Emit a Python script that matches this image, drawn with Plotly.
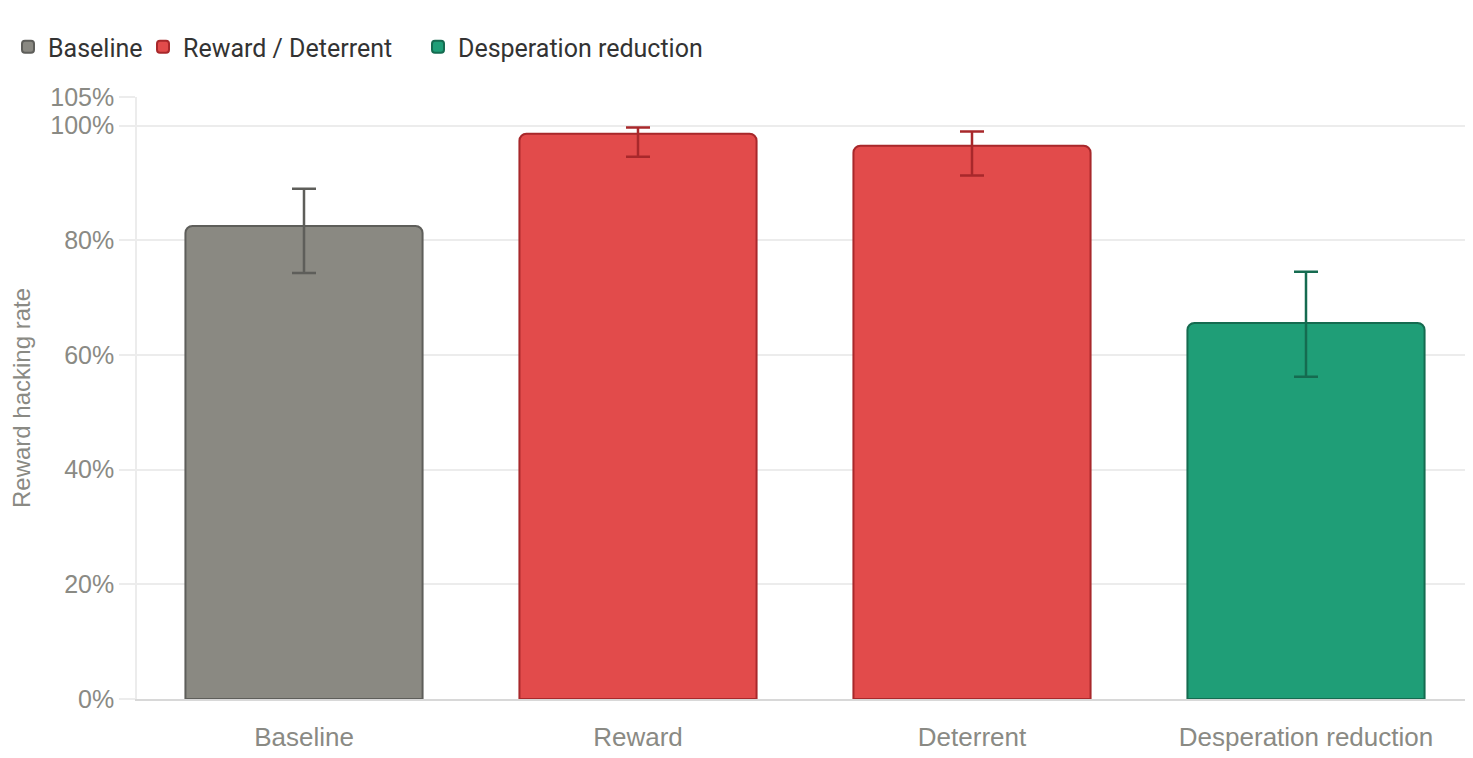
import plotly.graph_objects as go

# Reward hacking rate by condition (%)
categories = ['Baseline', 'Reward', 'Deterrent', 'Desperation reduction']
groups = ['Baseline', 'Reward / Deterrent', 'Reward / Deterrent', 'Desperation reduction']
rates = [82.5, 98.6, 96.5, 65.6]
err_hi = [89.0, 99.7, 99.0, 74.5]
err_lo = [74.3, 94.6, 91.3, 56.2]

colors = {
    'Baseline': ('#8a8982', '#5e5e5a'),
    'Reward / Deterrent': ('#e24b4b', '#a8282b'),
    'Desperation reduction': ('#1f9e77', '#156b50'),
}
legend_id = {'Baseline': 'legend', 'Reward / Deterrent': 'legend2', 'Desperation reduction': 'legend3'}

fig = go.Figure()

for g in ['Baseline', 'Reward / Deterrent', 'Desperation reduction']:
    idx = [i for i, gg in enumerate(groups) if gg == g]
    fill, edge = colors[g]
    fig.add_trace(go.Bar(
        x=[categories[i] for i in idx],
        y=[rates[i] for i in idx],
        name=g,
        legend=legend_id[g],
        width=0.71,
        marker=dict(color=fill, line=dict(color=edge, width=2), cornerradius=7),
        error_y=dict(
            type='data', symmetric=False,
            array=[err_hi[i] - rates[i] for i in idx],
            arrayminus=[rates[i] - err_lo[i] for i in idx],
            color=edge, thickness=2.5, width=12,
        ),
    ))

W, H = 1473, 758
ML, MR = 129, 8
legend_style = dict(
    orientation='h', yref='container',
    y=1 - 39 / H, xanchor='left', yanchor='middle',
    font=dict(size=25, color='#333333', family='Roboto, Liberation Sans, sans-serif'),
    itemwidth=30, bgcolor='rgba(0,0,0,0)',
)

fig.update_layout(
    width=W, height=H,
    barmode='overlay',
    plot_bgcolor='white', paper_bgcolor='white',
    margin=dict(l=ML, r=MR, t=89, b=67),
    font=dict(family='Liberation Sans, Arial, sans-serif', color='#8a8a84'),
    showlegend=True,
    legend=dict(legend_style, xref='paper', x=(-22 - ML) / (W - ML - MR)),
    legend2=dict(legend_style, xref='container', x=135 / W),
    legend3=dict(legend_style, xref='container', x=410 / W),
)

fig.update_xaxes(
    categoryorder='array', categoryarray=categories,
    showline=True, linecolor='#d8d8d8', linewidth=1.5,
    tickfont=dict(size=26, color='#8a8a84'),
    ticks='', ticklabelstandoff=14,
)

fig.update_yaxes(
    range=[0, 105],
    tickvals=[0, 20, 40, 60, 80, 100, 105],
    ticktext=['0%', '20%', '40%', '60%', '80%', '100%', '105%'],
    tickfont=dict(size=25, color='#8a8a84'),
    showgrid=True, gridcolor='#ececec', gridwidth=1.5,
    zeroline=False,
    showline=True, linecolor='#ececec', linewidth=1.5,
    ticks='outside', ticklen=16, tickcolor='#ececec', tickwidth=1.5,
    title=dict(text='Reward hacking rate', font=dict(size=24, color='#8a8a84'), standoff=14),
)

fig.write_html('out.html')
